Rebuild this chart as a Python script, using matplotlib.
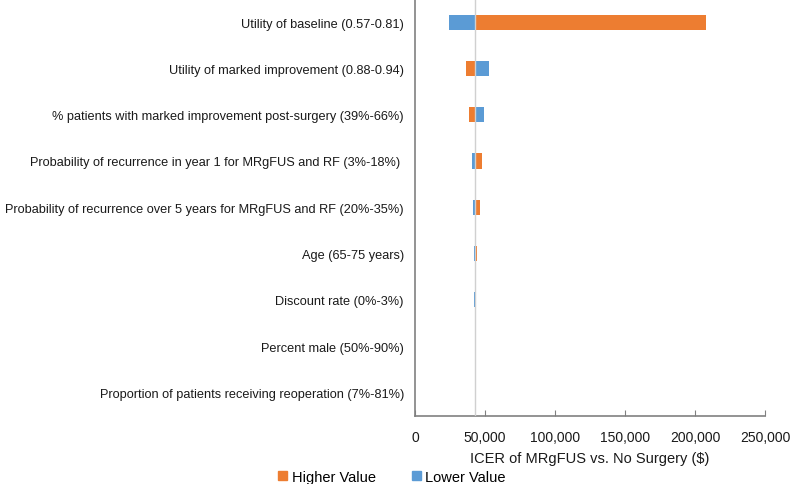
import matplotlib.pyplot as plt
from matplotlib.patches import Patch

plt.rcParams['font.family'] = ['Liberation Sans', 'DejaVu Sans']

# parameters, top to bottom
params = [
    'Utility of baseline (0.57-0.81)',
    'Utility of marked improvement (0.88-0.94)',
    '% patients with marked improvement post-surgery (39%-66%)',
    'Probability of recurrence in year 1 for MRgFUS and RF (3%-18%) ',
    'Probability of recurrence over 5 years for MRgFUS and RF (20%-35%)',
    'Age (65-75 years)',
    'Discount rate (0%-3%)',
    'Percent male (50%-90%)',
    'Proportion of patients receiving reoperation (7%-81%)',
]
base_icer = 43000
# ICER when parameter set to its higher / lower value
higher_value = [207900, 36400, 38400, 47900, 46400, 44500, 43800, 43000, 43000]
lower_value = [24300, 53100, 49300, 40500, 41400, 41900, 42300, 43000, 43000]

orange = '#ED7D31'
blue = '#5B9BD5'

fig = plt.figure(figsize=(7.92, 4.85), dpi=100)
ax = fig.add_axes([415 / 792, 1 - 416.5 / 485, 350 / 792, 416.5 / 485])

y = list(range(len(params)))
ax.barh(y, [v - base_icer for v in higher_value], left=base_icer, height=0.33,
        color=orange, label='Higher Value', zorder=2)
ax.barh(y, [v - base_icer for v in lower_value], left=base_icer, height=0.33,
        color=blue, label='Lower Value', zorder=2)
ax.axvline(base_icer, color='#d0d0d0', lw=1.0, zorder=3)

ax.set_ylim(len(params) - 0.5, -0.5)
ax.set_xlim(0, 250000)
ax.set_yticks(y)
ax.set_yticklabels(params, fontsize=9.2, color='#1a1a1a')
ax.tick_params(axis='y', length=0, pad=8)
ax.set_xticks(range(0, 250001, 50000))
ax.set_xticklabels([f'{v:,}' for v in range(0, 250001, 50000)], fontsize=10, color='#1a1a1a')
ax.tick_params(axis='x', direction='in', length=4, color='#808080', pad=10.5)

for s in ['top', 'right']:
    ax.spines[s].set_visible(False)
for s in ['left', 'bottom']:
    ax.spines[s].set_color('#808080')
    ax.spines[s].set_linewidth(1.2)

ax.set_xlabel('ICER of MRgFUS vs. No Surgery ($)', fontsize=10.5, color='#1a1a1a', labelpad=5)

handles = [Patch(color=orange, label='Higher Value'), Patch(color=blue, label='Lower Value')]
fig.legend(handles=handles, loc='center', bbox_to_anchor=(392 / 792, 1 - 478 / 485), ncol=2,
           frameon=False, fontsize=10.5, handlelength=0.6, handleheight=0.6,
           handletextpad=0.3, columnspacing=2.5)

fig.savefig('out.png', dpi=100)
